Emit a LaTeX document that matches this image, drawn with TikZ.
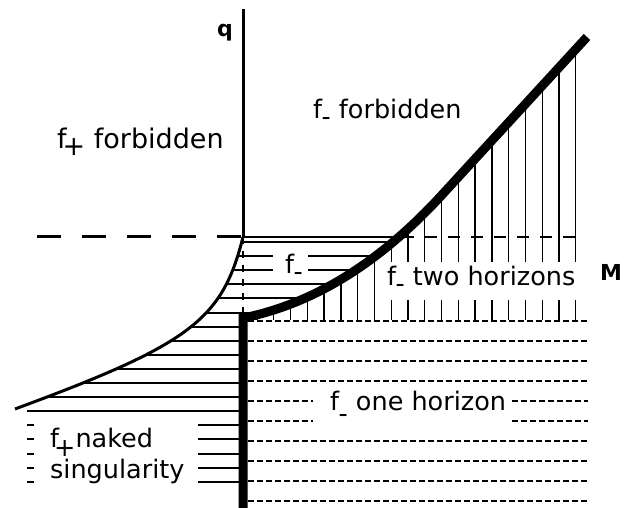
\documentclass[tikz,border=0pt]{standalone}
\usepackage{fontspec}
\setmainfont{DejaVu Sans}
\newcommand\fsub[1]{f\kern-0.5pt\raisebox{#1}{-}}
\tikzset{
  hatch/.style={line width=2pt},
  vhatch/.style={line width=1.3pt},
  thincurve/.style={line width=3pt},
  heavy/.style={line width=9pt, line join=miter},
  odash/.style={line width=2.5pt, dash pattern=on 6pt off 3pt},
  lbl/.style={inner sep=0pt, anchor=base west, font=\fontsize{25.5}{30}\selectfont},
  axlbl/.style={inner sep=0pt, anchor=base west, font=\bfseries\fontsize{22}{26}\selectfont},
}
\begin{document}
\begin{tikzpicture}[x=1pt,y=-1pt]
\useasboundingbox (0,0) rectangle (630,508);
% horizontal hatching between the two curves
\begin{scope}
  \clip (243,237) .. controls (222.3,320.1) and (190.4,344.2) .. (15,409)
        -- (243,409) -- (243,318) .. controls (312.5,304) and (378,264) .. (440,197) -- cycle;
  \foreach \k in {0,3,4,5,6,7,8,9,10,11}
    \draw[hatch] (0,{242+14.1*\k}) -- (630,{242+14.1*\k});
  \foreach \k in {1,2} {
    \draw[hatch] (0,{242+14.1*\k}) -- (273,{242+14.1*\k});
    \draw[hatch] (308,{242+14.1*\k}) -- (630,{242+14.1*\k});
  }
\end{scope}
\draw[hatch] (27,411.2) -- (243,411.2);
\foreach \k in {13,...,17} {
  \draw[hatch] (27,{242+14.1*\k}) -- (34,{242+14.1*\k});
  \draw[hatch] (198,{242+14.1*\k}) -- (243,{242+14.1*\k});
}
% vertical hatching under the thick curve
\begin{scope}
  \clip (243,318) .. controls (312.5,304) and (378,264) .. (440,197) -- (587,37)
        -- (630,37) -- (630,330) -- (243,330) -- cycle;
  \foreach \i in {0,...,19} {
    \pgfmathsetmacro\xx{257+16.78*\i}
    \ifnum\i<8
      \draw[vhatch] (\xx,0) -- (\xx,320);
    \else
      \draw[vhatch] (\xx,0) -- (\xx,262);
      \draw[vhatch] (\xx,300) -- (\xx,320);
    \fi
  }
\end{scope}
% the horizontal line q = const
\draw[line width=3pt, dash pattern=on 24pt off 21pt] (37,237) -- (243,237);
\draw[hatch] (243,237) -- (400,237);
\draw[line width=2pt, dash pattern=on 12pt off 11pt] (402,237) -- (577,237);
% axis
\draw[line width=3pt] (243,9) -- (243,237);
\draw[line width=2.5pt, dash pattern=on 7pt off 7pt] (243,237) -- (243,318);
% thin curve
\draw[thincurve] (243,237) .. controls (222.3,320.1) and (190.4,344.2) .. (15,409);
% one horizon dashed lines
\foreach \y in {321,341,361,381,441,461,481,501}
  \draw[odash] (248,\y) -- (588,\y);
\foreach \y in {401,421} {
  \draw[odash] (248,\y) -- (313,\y);
  \draw[odash] (512,\y) -- (588,\y);
}
% thick boundary
\draw[heavy] (243,508) -- (243,318) .. controls (312.5,304) and (378,264) .. (440,197) -- (587,37);
% labels
\node[axlbl] (q) at (217,37) {q};
\node[axlbl] (M) at (600,280) {M};
\node[lbl, font=\fontsize{27}{32}\selectfont] (fpf) at (57,149) {f\kern-4pt\raisebox{-7pt}{+} forbidden};
\node[lbl] (fmf) at (313,119) {\fsub{-7pt} forbidden};
\node[lbl] (fm) at (285,273) {\fsub{-7pt}};
\node[lbl] (two) at (387,286) {\fsub{-7pt} two horizons};
\node[lbl] (one) at (330,410) {\fsub{-12pt} one horizon};
\node[lbl] (nk) at (50,447) {f\kern-5pt\raisebox{-9pt}{+}naked};
\node[lbl] (sg) at (50,478) {singularity};
\end{tikzpicture}
\end{document}
